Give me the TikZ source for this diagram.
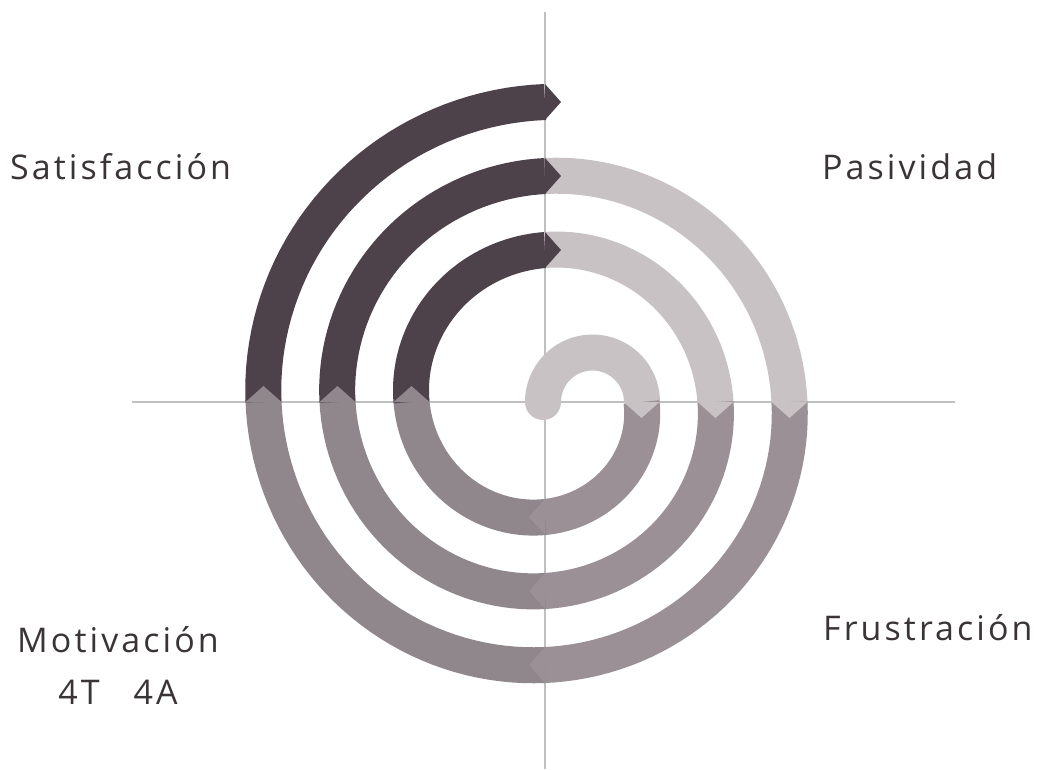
\documentclass[tikz,border=0pt]{standalone}
\usepackage{fontspec}
\setmainfont{Open Sans}
\newfontfamily\labelfont{Open Sans}[LetterSpace=9]
\definecolor{sati}{RGB}{78,66,74}
\definecolor{pasi}{RGB}{200,194,197}
\definecolor{frus}{RGB}{154,144,150}
\definecolor{moti}{RGB}{143,135,140}
\definecolor{ink}{RGB}{58,52,55}
\definecolor{cross}{RGB}{192,192,192}

\begin{document}
\begin{tikzpicture}[
    x=1pt, y=-1pt,
    every node/.style={text=ink, inner sep=0pt, font=\labelfont\fontsize{34}{40}\selectfont},
    band/.style={line width=36pt},
    axisline/.style={draw=cross, line width=1.4pt},
]
  \useasboundingbox (0,0) rectangle (1038,769);
  \coordinate (top) at (545,12);
  \coordinate (bot) at (545,769);
  \coordinate (lft) at (132,402);
  \coordinate (rgt) at (955,402);
  \draw [axisline] (top) -- (bot);
  \draw [axisline] (lft) -- (rgt);

  \fill [pasi] (543,402) circle (18);
  \draw [band, pasi] plot [domain=0:180.6, samples=40] ({592.5-49.5*cos(\x)}, {402-49.5*sin(\x)});
  \foreach \st/\en/\col in {90/180.6/frus, 180/270.6/moti, 270/360.6/sati, 360/450.6/pasi,
                            450/540.6/frus, 540/630.6/moti, 630/720.6/sati, 720/810.6/pasi,
                            810/900.6/frus, 900/990.6/moti, 990/1080/sati}
    \draw [band, \col] plot [domain=\st:\en, samples=40]
      ({545+(78+0.20556*\x)*sin(\x)}, {402-(78+0.20556*\x)*cos(\x)});
  \foreach \ang/\col [evaluate=\ang as \r using 78+0.20556*\ang] in {90/pasi, 180/frus, 270/moti, 360/sati,
                            450/pasi, 540/frus, 630/moti, 720/sati,
                            810/pasi, 900/frus, 990/moti, 1080/sati}
    \fill [\col] ({545+(\r+18)*sin(\ang)}, {402-(\r+18)*cos(\ang)})
              -- ({545+(\r-18)*sin(\ang)}, {402-(\r-18)*cos(\ang)})
              -- ({545+\r*sin(\ang)+16*cos(\ang)}, {402-\r*cos(\ang)+16*sin(\ang)}) -- cycle;

  \node [anchor=base west] (satisfaccion) at (10,179)  {Satisfacción};
  \node [anchor=base west] (pasividad)    at (822,179) {Pasividad};
  \node [anchor=base]      (motivacion)   at (118,652) {Motivación};
  \node [anchor=base]      (cuatro)       at (118,704) {4T\hspace{1em}4A};
  \node [anchor=base west] (frustracion)  at (823,640) {Frustración};
\end{tikzpicture}
\end{document}
